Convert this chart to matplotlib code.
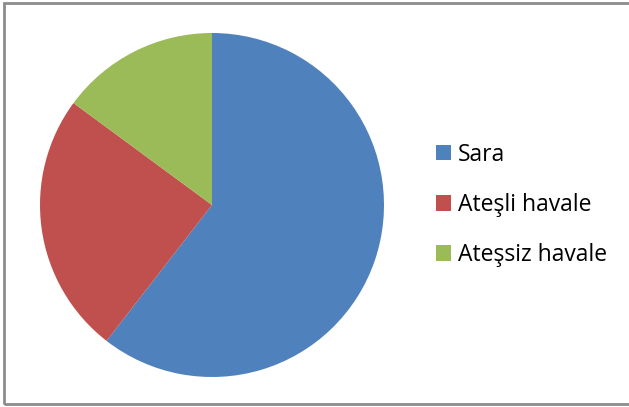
import matplotlib
matplotlib.use('Agg')
import matplotlib.pyplot as plt
from matplotlib.patches import Patch, Rectangle

# Slice values (share of cases, %)
labels = ['Sara', 'Ateşli havale', 'Ateşsiz havale']
values = [60.5, 24.6, 14.9]
colors = ['#4F81BD', '#C0504D', '#9BBB59']

plt.rcParams['font.family'] = ['Open Sans', 'DejaVu Sans']

fig = plt.figure(figsize=(6.29, 4.07), dpi=100)
ax = fig.add_axes([40 / 629, 30 / 407, 344 / 629, 344 / 407])
ax.pie(values, colors=colors, startangle=90, counterclock=False,
       wedgeprops=dict(linewidth=0))
ax.set_xlim(-1, 1)
ax.set_ylim(-1, 1)
ax.set_aspect('equal')

handles = [Patch(facecolor=c, edgecolor='none') for c in colors]
fig.legend(handles, labels, loc='center left',
           bbox_to_anchor=(415 / 629, 1 - 205 / 407),
           frameon=False, fontsize=16.5, labelspacing=1.15,
           handlelength=0.68, handleheight=0.68, handletextpad=0.3)

# chart area border (right side runs off the image)
fig.patches.append(Rectangle((4 / 629, 3 / 407), 640 / 629, 401 / 407,
                             transform=fig.transFigure, fill=False,
                             edgecolor='#8c8c8c', linewidth=2))

plt.savefig('out.png', dpi=100)
plt.close()
